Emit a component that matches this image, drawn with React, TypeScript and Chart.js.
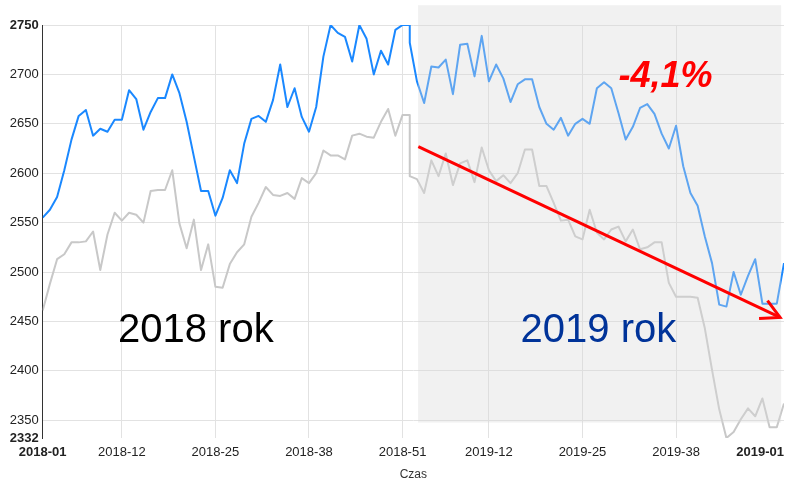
import React, { useEffect, useRef } from 'react';
import { Chart, registerables } from 'chart.js';

Chart.register(...registerables);

// Weekly values, 2018 (weeks 01..52) and 2019 (weeks 01..53)
const blue2018 = [
  2555, 2563, 2576, 2603, 2634, 2658, 2664, 2638, 2645, 2642,
  2654, 2654, 2684, 2675, 2644, 2662, 2676, 2676, 2700, 2681,
  2652, 2617, 2582, 2582, 2557, 2575, 2603, 2590, 2630, 2655,
  2658, 2652, 2674, 2710, 2667, 2686, 2657, 2642, 2667, 2718,
  2750, 2742, 2738, 2713, 2750, 2736, 2700, 2724, 2710, 2745,
  2750, 2750,
];
const blue2019 = [
  2732, 2693, 2671, 2708, 2707, 2715, 2680, 2730, 2731, 2698,
  2739, 2693, 2710, 2696, 2672, 2690, 2695, 2695, 2667, 2650,
  2644, 2656, 2638, 2650, 2655, 2650, 2686, 2692, 2686, 2661,
  2634, 2647, 2666, 2670, 2660, 2640, 2625, 2648, 2607, 2580,
  2567, 2536, 2509, 2467, 2465, 2500, 2477, 2496, 2513, 2468,
  2468, 2468, 2509,
];
const gray2018 = [
  2461, 2488, 2513, 2518, 2530, 2530, 2531, 2541, 2502, 2538,
  2560, 2552, 2560, 2558, 2550, 2582, 2583, 2583, 2603, 2549,
  2524, 2553, 2502, 2528, 2485, 2484, 2508, 2520, 2528, 2556,
  2570, 2586, 2578, 2577, 2580, 2574, 2595, 2590, 2600, 2623,
  2618, 2618, 2614, 2638, 2640, 2637, 2636, 2652, 2665, 2638,
  2659, 2659,
];
const gray2019 = [
  2597, 2594, 2580, 2613, 2597, 2620, 2588, 2610, 2613, 2591,
  2626, 2603, 2592, 2598, 2590, 2600, 2624, 2624, 2587, 2587,
  2570, 2552, 2553, 2536, 2533, 2563, 2540, 2533, 2543, 2546,
  2531, 2543, 2523, 2525, 2530, 2530, 2489, 2475, 2475, 2475,
  2474, 2443, 2401, 2361, 2332, 2338, 2351, 2362, 2354, 2372,
  2343, 2343, 2367,
];
const start2018 = 0;
const start2019 = 51;

const xTickValues = [0, 11, 24, 37, 50, 62, 75, 88, 103];
const xTickLabels = ['2018-01', '2018-12', '2018-25', '2018-38', '2018-51', '2019-12', '2019-25', '2019-38', '2019-01'];
const yTickValues = [2332, 2350, 2400, 2450, 2500, 2550, 2600, 2650, 2700, 2750];
const yMin = 2332;
const yMax = 2750;
const xMax = 103;

// annotations (in data coordinates)
const shadeRange = { x0: 52.15, x1: 102.6, yTop: 2770, yBottom: 2347.6 };
const trendArrow = { x0: 52.19, y0: 2627, x1: 102.45, y1: 2454 };
const label2018 = { text: '2018 rok', x: 10.46, y: 2429.5 };
const label2019 = { text: '2019 rok', x: 66.4, y: 2429.5 };
const labelChange = { text: '-4,1%', x: 80.0, y: 2687 };

const FONT = '"Liberation Sans", Arial, sans-serif';

const toPoints = (vals: number[], start: number) => vals.map((v, i) => ({ x: start + i, y: v }));

const annotatePlugin = {
  id: 'annotate',
  afterDatasetsDraw(chart: any) {
    const { ctx } = chart;
    const x = chart.scales.x;
    const y = chart.scales.y;
    ctx.save();
    // shaded 2019 region (translucent overlay)
    const sx0 = x.getPixelForValue(shadeRange.x0);
    const sx1 = x.getPixelForValue(shadeRange.x1);
    const sy0 = y.getPixelForValue(shadeRange.yTop);
    const sy1 = y.getPixelForValue(shadeRange.yBottom);
    ctx.fillStyle = 'rgba(215,215,215,0.36)';
    ctx.fillRect(sx0, sy0, sx1 - sx0, sy1 - sy0);

    // arrow
    const ax0 = x.getPixelForValue(trendArrow.x0);
    const ay0 = y.getPixelForValue(trendArrow.y0);
    const ax1 = x.getPixelForValue(trendArrow.x1);
    const ay1 = y.getPixelForValue(trendArrow.y1);
    ctx.strokeStyle = '#ff0000';
    ctx.lineWidth = 3;
    ctx.lineCap = 'butt';
    ctx.beginPath();
    ctx.moveTo(ax0, ay0);
    ctx.lineTo(ax1, ay1);
    ctx.stroke();
    const ang = Math.atan2(ay0 - ay1, ax0 - ax1);
    const headLen = 21;
    const spread = (28 * Math.PI) / 180;
    ctx.beginPath();
    ctx.moveTo(ax1 + headLen * Math.cos(ang - spread), ay1 + headLen * Math.sin(ang - spread));
    ctx.lineTo(ax1, ay1);
    ctx.lineTo(ax1 + headLen * Math.cos(ang + spread), ay1 + headLen * Math.sin(ang + spread));
    ctx.stroke();

    // texts
    ctx.textAlign = 'left';
    ctx.textBaseline = 'alphabetic';
    ctx.font = `40px ${FONT}`;
    ctx.fillStyle = '#000000';
    ctx.fillText(label2018.text, x.getPixelForValue(label2018.x), y.getPixelForValue(label2018.y));
    ctx.fillStyle = '#003399';
    ctx.fillText(label2019.text, x.getPixelForValue(label2019.x), y.getPixelForValue(label2019.y));
    ctx.font = `italic bold 36px ${FONT}`;
    ctx.fillStyle = '#ff0000';
    ctx.fillText(labelChange.text, x.getPixelForValue(labelChange.x), y.getPixelForValue(labelChange.y));

    // last x tick label, right-aligned to the end of the axis
    const items = x.getLabelItems();
    const last = items[items.length - 1];
    if (last) {
      ctx.font = `bold 13px ${FONT}`;
      ctx.fillStyle = '#222222';
      ctx.textAlign = 'right';
      ctx.textBaseline = last.options.textBaseline || 'middle';
      ctx.fillText(String(last.label), last.options.translation[0], last.options.translation[1] + last.textOffset);
    }
    ctx.restore();
  },
};

export default function App() {
  const canvasRef = useRef<HTMLCanvasElement | null>(null);

  useEffect(() => {
    const canvas = canvasRef.current;
    if (!canvas) return;
    const lastTick = xTickValues[xTickValues.length - 1];
    const chart = new Chart(canvas, {
      type: 'line',
      data: {
        datasets: [
          {
            label: 'gray',
            data: [...toPoints(gray2018, start2018), ...toPoints(gray2019, start2019)],
            borderColor: '#c8c8c8',
            borderWidth: 2,
            pointRadius: 0,
            tension: 0,
            borderJoinStyle: 'round',
          },
          {
            label: 'blue',
            data: [...toPoints(blue2018, start2018), ...toPoints(blue2019, start2019)],
            borderColor: '#1a88ff',
            borderWidth: 2,
            pointRadius: 0,
            tension: 0,
            borderJoinStyle: 'round',
          },
        ],
      },
      options: {
        animation: false,
        responsive: false,
        maintainAspectRatio: false,
        parsing: false as any,
        layout: { padding: { top: 25, right: 1, left: 0, bottom: 0 } },
        plugins: {
          legend: { display: false },
          tooltip: { enabled: false },
        },
        scales: {
          x: {
            type: 'linear',
            min: 0,
            max: xMax,
            afterBuildTicks: (s: any) => {
              s.ticks = xTickValues.map((v) => ({ value: v }));
            },
            afterFit: (s: any) => {
              s.paddingRight = 0;
              s.height = 41;
            },
            ticks: {
              autoSkip: false,
              maxRotation: 0,
              padding: 7,
              color: (c: any) => (c.tick && c.tick.value === lastTick ? 'rgba(0,0,0,0)' : '#222222'),
              font: (c: any) => ({
                family: FONT,
                size: 13,
                weight: c.tick && c.tick.value === 0 ? 'bold' : 'normal',
              }),
              callback: (v: any) => {
                const idx = xTickValues.indexOf(Number(v));
                return idx >= 0 ? xTickLabels[idx] : '';
              },
            },
            grid: {
              drawTicks: false,
              color: (c: any) => (c.tick && (c.tick.value === lastTick || c.tick.value === 0) ? 'rgba(0,0,0,0)' : '#e2e2e2'),
              lineWidth: 1,
            },
            border: { display: false },
            title: {
              display: true,
              text: 'Czas',
              color: '#333333',
              font: { family: FONT, size: 12 },
              padding: { top: 0, bottom: -3 },
            },
          },
          y: {
            type: 'linear',
            min: yMin,
            max: yMax,
            afterBuildTicks: (s: any) => {
              s.ticks = yTickValues.map((v) => ({ value: v }));
            },
            afterFit: (s: any) => {
              s.width = 42.7;
            },
            ticks: {
              autoSkip: false,
              padding: 4,
              color: '#222222',
              font: (c: any) => ({
                family: FONT,
                size: 13,
                weight: c.tick && (c.tick.value === yMin || c.tick.value === yMax) ? 'bold' : 'normal',
              }),
              callback: (v: any) => String(v),
            },
            grid: {
              drawTicks: false,
              color: (c: any) => (c.tick && c.tick.value === yMin ? 'rgba(0,0,0,0)' : '#e2e2e2'),
              lineWidth: 1,
            },
            border: { display: true, color: '#333333', width: 1 },
          },
        },
      },
      plugins: [annotatePlugin],
    } as any);
    return () => chart.destroy();
  }, []);

  return (
    <div style={{ position: 'absolute', left: 0, top: 0, width: 785, height: 479, background: '#ffffff' }}>
      <canvas ref={canvasRef} width={785} height={479} style={{ display: 'block', width: 785, height: 479 }} />
    </div>
  );
}
